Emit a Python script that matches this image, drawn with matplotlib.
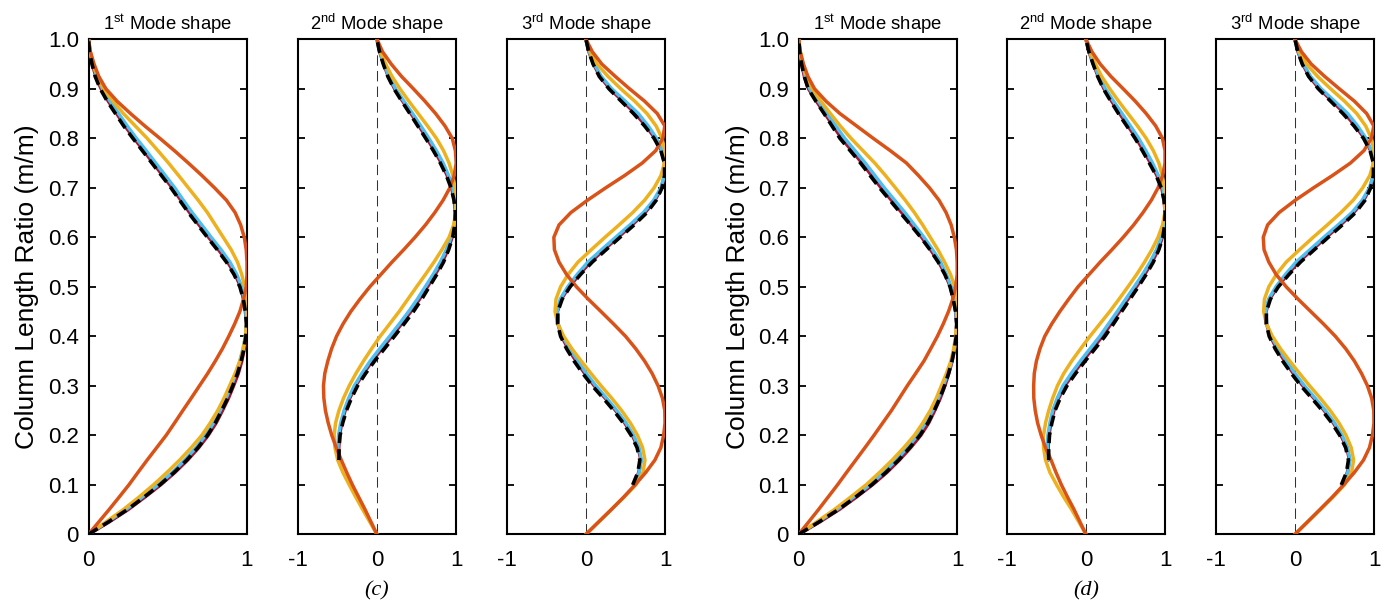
import matplotlib
matplotlib.use("Agg")
import matplotlib.pyplot as plt
import numpy as np

plt.rcParams['font.family'] = ['Liberation Sans', 'DejaVu Sans']

nan = np.nan

# column length ratio (vertical axis), bottom to top
ratio = [0.000, 0.025, 0.050, 0.075, 0.100, 0.125, 0.150, 0.175, 0.200, 0.225,
         0.250, 0.275, 0.300, 0.325, 0.350, 0.375, 0.400, 0.425, 0.450, 0.475,
         0.500, 0.525, 0.550, 0.575, 0.600, 0.625, 0.650, 0.675, 0.700, 0.725,
         0.750, 0.775, 0.800, 0.825, 0.850, 0.875, 0.900, 0.925, 0.950, 0.975,
         1.000]

# ---------------- case (c) ----------------
c_mode1 = {
    'black':  [0, .125, .245, .35, .45, .54, .62, .69, .75, .80,
               .84, .878, .91, .94, .963, .981, .993, .997, .99, .977,
               .955, .918, .87, .812, .75, .69, .63, .575, .52, .46,
               .40, .34, .28, .222, .17, .118, .074, .042, .022, .006,
               0],
    'red':    [0, .13, .25, .355, .455, .545, .625, .695, .755, .805,
               .845, .883, .915, .945, .967, .983, .994, .997, .99, .978,
               .96, .925, .878, .82, .758, .698, .638, .583, .528, .468,
               .408, .348, .288, .23, .178, .125, .08, .046, .024, .007,
               0],
    'cyan':   [0, .118, .235, .338, .44, .528, .607, .678, .738, .789,
               .83, .868, .90, .93, .955, .975, .99, .997, .993, .983,
               .967, .935, .892, .836, .774, .714, .654, .598, .544, .484,
               .424, .364, .302, .244, .19, .136, .088, .052, .028, .009,
               0],
    'yellow': [0, .11, .22, .318, .41, .495, .575, .648, .715, .768,
               .815, .855, .89, .925, .955, .977, .99, .997, 1.0, .995,
               .985, .967, .94, .90, .85, .80, .75, .692, .63, .568,
               .505, .438, .37, .295, .22, .155, .095, .057, .03, .011,
               0],
    'orange': [0, .065, .13, .193, .255, .312, .37, .43, .49, .543,
               .595, .648, .70, .752, .80, .845, .885, .922, .955, .978,
               .995, 1.0, 1.0, .995, .983, .96, .925, .87, .795, .715,
               .63, .542, .45, .355, .265, .18, .11, .065, .035, .012,
               0],
}
c_mode2 = {
    'black':  [nan, nan, nan, nan, nan, nan, -.48, -.478, -.465, -.432,
               -.385, -.322, -.245, -.143, -.03, .095, .22, .342, .46, .565,
               .66, .755, .84, .905, .955, .982, .99, .972, .935, .875,
               .80, .712, .615, .515, .415, .313, .215, .137, .08, .032,
               0],
    'red':    [nan, nan, nan, nan, nan, nan, -.48, -.482, -.472, -.445,
               -.402, -.343, -.27, -.17, -.06, .062, .188, .31, .428, .537,
               .637, .735, .825, .895, .948, .98, .99, .976, .942, .886,
               .813, .726, .63, .53, .43, .325, .223, .144, .084, .034,
               0],
    'cyan':   [nan, nan, nan, nan, nan, nan, -.49, -.492, -.485, -.457,
               -.415, -.357, -.285, -.19, -.085, .035, .16, .282, .40, .51,
               .61, .71, .80, .875, .935, .975, .995, .985, .955, .903,
               .835, .75, .655, .553, .45, .34, .235, .152, .09, .037,
               0],
    'yellow': [0, -.09, -.18, -.267, -.35, -.43, -.495, -.53, -.54, -.522,
               -.48, -.422, -.35, -.265, -.17, -.067, .04, .16, .28, .39,
               .50, .612, .72, .82, .91, .968, .995, 1.0, .985, .958,
               .91, .84, .75, .638, .52, .402, .29, .19, .11, .045,
               0],
    'orange': [0, -.075, -.15, -.23, -.31, -.382, -.45, -.513, -.57, -.615,
               -.65, -.67, -.675, -.658, -.62, -.572, -.51, -.428, -.33, -.215,
               -.09, .05, .19, .338, .48, .612, .73, .835, .92, .975,
               1.0, .99, .95, .858, .74, .605, .46, .31, .18, .07,
               0],
}
c_mode3 = {
    'black':  [nan, nan, nan, nan, .59, .655, .68, .645, .57, .47,
               .35, .218, .08, -.04, -.15, -.245, -.32, -.358, -.355, -.30,
               -.20, -.068, .08, .255, .43, .608, .77, .888, .96, .993,
               .99, .945, .86, .74, .60, .445, .29, .168, .09, .035,
               0],
    'red':    [nan, nan, nan, nan, .60, .667, .693, .66, .585, .49,
               .375, .243, .105, -.015, -.125, -.226, -.307, -.353, -.36, -.312,
               -.212, -.083, .056, .23, .405, .583, .746, .872, .953, .99,
               .991, .953, .872, .757, .622, .465, .302, .177, .096, .037,
               0],
    'cyan':   [nan, nan, nan, nan, .605, .672, .70, .67, .60, .505,
               .39, .26, .125, .005, -.10, -.205, -.295, -.35, -.365, -.325,
               -.23, -.11, .025, .198, .375, .555, .725, .855, .945, .99,
               .995, .963, .89, .785, .66, .495, .325, .193, .105, .042,
               0],
    'yellow': [0, .16, .32, .48, .63, .72, .745, .715, .65, .56,
               .45, .325, .19, .063, -.06, -.178, -.28, -.355, -.39, -.378,
               -.32, -.225, -.10, .068, .24, .418, .59, .74, .86, .947,
               .99, .995, .96, .885, .77, .615, .44, .278, .14, .052,
               0],
    'orange': [0, .16, .32, .475, .62, .755, .87, .945, .98, .998,
               .995, .965, .91, .835, .74, .628, .50, .348, .19, .03,
               -.12, -.245, -.34, -.398, -.405, -.34, -.19, .02, .25, .49,
               .71, .88, .97, .995, .90, .74, .55, .37, .20, .08,
               0],
}

# ---------------- case (d) ----------------
d_mode1 = {
    'black':  [0, .128, .25, .358, .46, .55, .63, .70, .765, .815,
               .855, .89, .92, .945, .967, .983, .994, .997, .99, .975,
               .955, .922, .88, .828, .77, .706, .64, .575, .51, .45,
               .39, .325, .26, .21, .16, .108, .06, .035, .018, .006,
               0],
    'red':    [0, .132, .255, .363, .465, .556, .635, .706, .77, .82,
               .858, .893, .922, .947, .968, .984, .994, .997, .99, .976,
               .957, .925, .884, .832, .776, .712, .65, .585, .52, .46,
               .40, .335, .27, .218, .165, .112, .062, .036, .019, .006,
               0],
    'cyan':   [0, .12, .24, .345, .45, .535, .615, .685, .75, .80,
               .845, .88, .912, .94, .965, .982, .993, .997, .992, .98,
               .962, .932, .895, .845, .79, .73, .67, .605, .54, .48,
               .42, .355, .29, .234, .178, .124, .07, .042, .022, .007,
               0],
    'yellow': [0, .113, .225, .327, .425, .51, .59, .663, .73, .783,
               .83, .868, .90, .932, .96, .978, .99, .997, 1.0, .995,
               .985, .958, .92, .878, .83, .782, .73, .672, .61, .547,
               .48, .405, .33, .262, .20, .14, .085, .05, .027, .01,
               0],
    'orange': [0, .063, .125, .185, .245, .302, .36, .418, .475, .53,
               .585, .635, .685, .738, .79, .833, .875, .912, .945, .972,
               .99, 1.0, 1.0, .995, .982, .962, .93, .885, .825, .755,
               .68, .578, .47, .365, .26, .172, .10, .058, .03, .01,
               0],
}
d_mode2 = {
    'black':  [nan, nan, nan, nan, nan, nan, -.47, -.47, -.46, -.43,
               -.39, -.325, -.24, -.13, -.01, .115, .24, .347, .45, .555,
               .66, .76, .85, .92, .97, .993, 1.0, .985, .95, .885,
               .80, .712, .62, .515, .41, .313, .22, .148, .09, .037,
               0],
    'red':    [nan, nan, nan, nan, nan, nan, -.475, -.477, -.468, -.442,
               -.405, -.345, -.267, -.157, -.04, .083, .207, .316, .423, .53,
               .637, .74, .835, .912, .963, .99, .998, .987, .957, .895,
               .815, .726, .635, .53, .425, .325, .228, .154, .093, .038,
               0],
    'cyan':   [nan, nan, nan, nan, nan, nan, -.485, -.487, -.48, -.455,
               -.42, -.362, -.29, -.185, -.07, .052, .175, .285, .395, .502,
               .61, .715, .81, .89, .95, .985, 1.0, .993, .97, .913,
               .84, .755, .665, .56, .455, .348, .245, .165, .10, .042,
               0],
    'yellow': [0, -.09, -.18, -.28, -.37, -.455, -.51, -.535, -.535, -.51,
               -.47, -.42, -.36, -.28, -.18, -.067, .05, .175, .30, .417,
               .53, .64, .74, .832, .91, .967, .995, 1.0, .99, .963,
               .92, .85, .76, .65, .53, .412, .30, .198, .12, .05,
               0],
    'orange': [0, -.075, -.15, -.232, -.31, -.378, -.44, -.51, -.565, -.61,
               -.64, -.658, -.66, -.652, -.625, -.58, -.52, -.432, -.33, -.218,
               -.10, .04, .18, .328, .47, .602, .72, .825, .91, .968,
               .998, .998, .965, .88, .76, .622, .47, .315, .18, .075,
               0],
}
d_mode3 = {
    'black':  [nan, nan, nan, nan, .585, .65, .675, .64, .565, .465,
               .345, .212, .075, -.045, -.155, -.25, -.325, -.362, -.36, -.31,
               -.21, -.075, .07, .245, .42, .598, .765, .885, .955, .99,
               .99, .948, .865, .745, .605, .45, .295, .172, .092, .036,
               0],
    'red':    [nan, nan, nan, nan, .595, .662, .688, .655, .58, .485,
               .37, .238, .1, -.02, -.13, -.23, -.31, -.358, -.365, -.32,
               -.222, -.092, .046, .22, .395, .574, .742, .868, .948, .988,
               .991, .956, .877, .762, .628, .47, .308, .18, .098, .038,
               0],
    'cyan':   [nan, nan, nan, nan, .60, .667, .695, .665, .595, .50,
               .385, .255, .12, 0.0, -.105, -.21, -.30, -.355, -.37, -.333,
               -.24, -.12, .015, .19, .365, .545, .72, .85, .94, .988,
               .995, .965, .895, .79, .665, .50, .33, .197, .108, .043,
               0],
    'yellow': [0, .16, .32, .478, .625, .715, .74, .71, .645, .555,
               .445, .32, .185, .058, -.065, -.183, -.285, -.36, -.395, -.385,
               -.33, -.235, -.11, .058, .23, .408, .58, .735, .855, .945,
               .99, .997, .965, .892, .78, .625, .45, .285, .145, .055,
               0],
    'orange': [0, .158, .315, .47, .615, .75, .865, .94, .978, .997,
               .995, .968, .915, .84, .75, .64, .51, .36, .20, .04,
               -.11, -.238, -.33, -.39, -.40, -.345, -.20, .005, .235, .475,
               .70, .87, .965, .995, .905, .75, .56, .375, .205, .082,
               0],
}

titles = ['1$^{\\mathregular{st}}$ Mode shape',
          '2$^{\\mathregular{nd}}$ Mode shape',
          '3$^{\\mathregular{rd}}$ Mode shape']
ytick_vals = [0.0, 0.1, 0.2, 0.3, 0.4, 0.5, 0.6, 0.7, 0.8, 0.9, 1.0]
ytick_text = ['0', '0.1', '0.2', '0.3', '0.4', '0.5', '0.6', '0.7', '0.8', '0.9', '1.0']

colors = {'red': '#A2142F', 'cyan': '#4DBEEE', 'yellow': '#EDB120',
          'orange': '#D95319', 'black': 'black'}


def draw_panel(ax, curves, mode, first):
    for name in ['red', 'cyan', 'yellow', 'orange']:
        ax.plot(curves[name], ratio, color=colors[name], lw=2.5,
                solid_joinstyle='round', solid_capstyle='round', zorder=3)
    ax.plot(curves['black'], ratio, color='black', lw=2.6,
            dashes=(3.0, 1.7), zorder=4)

    ax.set_ylim(0, 1)
    if mode == 0:
        ax.set_xlim(0, 1)
        ax.set_xticks([0, 1])
        ax.set_xticklabels(['0', '1'])
    else:
        ax.set_xlim(-1, 1)
        ax.set_xticks([-1, 0, 1])
        ax.set_xticklabels(['-1', '0', '1'])
        ax.axvline(0, color='#333333', lw=0.75, dashes=(10, 5), zorder=2)

    ax.set_yticks(ytick_vals)
    if first:
        ax.set_yticklabels(ytick_text)
        ax.set_ylabel('Column Length Ratio (m/m)', fontsize=19, labelpad=6)
    else:
        ax.set_yticklabels([])

    ax.tick_params(axis='y', direction='in', length=5, width=1.3,
                   left=True, right=True, labelsize=16, pad=7)
    ax.tick_params(axis='x', length=0, labelsize=16, pad=11)
    for sp in ax.spines.values():
        sp.set_linewidth(1.5)
    ax.set_title(titles[mode], fontsize=13.3, pad=7)


fig = plt.figure(figsize=(13.93, 6.05), dpi=100)

lefts = [88.5, 297.7, 506.7, 798.7, 1006.7, 1215.7]
panels = [c_mode1, c_mode2, c_mode3, d_mode1, d_mode2, d_mode3]
W, H = 1393.0, 605.0
for i, (left, curves) in enumerate(zip(lefts, panels)):
    ax = fig.add_axes([left / W, (H - 534.3) / H, 158.5 / W, 495.0 / H])
    draw_panel(ax, curves, i % 3, i % 3 == 0)

fig.text(376.5 / W, 1 - 591 / H, '(c)', fontfamily='Liberation Serif',
         style='italic', fontsize=16, ha='center', va='center')
fig.text(1086.0 / W, 1 - 591 / H, '(d)', fontfamily='Liberation Serif',
         style='italic', fontsize=16, ha='center', va='center')

fig.savefig('out.png', dpi=100)
